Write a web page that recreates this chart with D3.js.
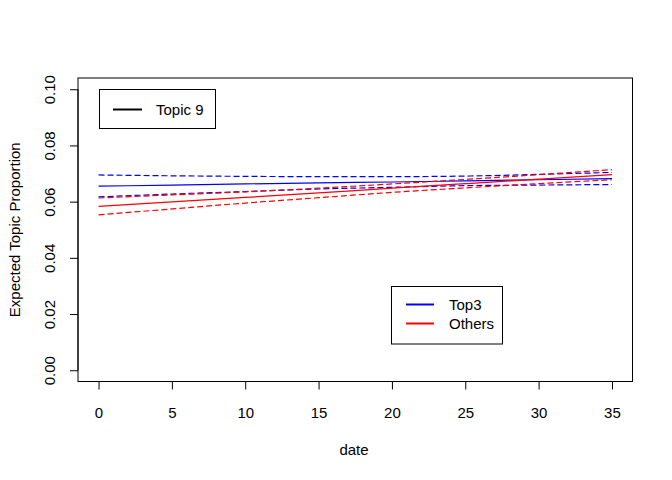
<!DOCTYPE html>
<html>
<head>
<meta charset="utf-8">
<script src="https://cdn.jsdelivr.net/npm/d3@7"></script>
<style>
html,body{margin:0;padding:0;background:#fff;}
svg{display:block;font-family:"Liberation Sans",Arial,sans-serif;}
svg text{font-size:15px;fill:#000;font-family:"Liberation Sans",Arial,sans-serif;}
</style>
</head>
<body>
<svg id="chart" width="672" height="480"></svg>
<script>
// ---- data ----
const dates = [0, 5, 10, 15, 20, 25, 30, 35];
const top3Mean   = [0.0655, 0.0659, 0.0663, 0.0667, 0.0670, 0.0674, 0.0678, 0.0682];
const top3Upper  = [0.0695, 0.0692, 0.0690, 0.0689, 0.0689, 0.0691, 0.0697, 0.0704];
const top3Lower  = [0.0617, 0.0627, 0.0636, 0.0645, 0.0651, 0.0657, 0.0659, 0.0661];
const othersMean  = [0.0583, 0.0599, 0.0615, 0.0631, 0.0648, 0.0664, 0.0680, 0.0696];
const othersUpper = [0.0613, 0.0624, 0.0635, 0.0648, 0.0663, 0.0679, 0.0696, 0.0714];
const othersLower = [0.0553, 0.0574, 0.0595, 0.0614, 0.0633, 0.0649, 0.0664, 0.0678];
const xTicks = [0, 5, 10, 15, 20, 25, 30, 35];
const yTicks = [0.00, 0.02, 0.04, 0.06, 0.08, 0.10];
const seriesNames = ["Top3", "Others"];
const seriesColors = ["#0000ff", "#ff0000"];
const topicLabel = "Topic 9";

const svg = d3.select("#chart");
const pLeft = 78, pRight = 632.5, pTop = 78, pBottom = 381.5;

const x = d3.scaleLinear().domain([-1.4, 36.4]).range([pLeft, pRight]);
const y = d3.scaleLinear().domain([-0.004, 0.104]).range([pBottom, pTop]);

// plot box
svg.append("rect").attr("x", pLeft).attr("y", pTop)
  .attr("width", pRight - pLeft).attr("height", pBottom - pTop)
  .attr("fill", "none").attr("stroke", "#000").attr("stroke-width", 1);

// x axis
const xAxis = svg.append("g").attr("transform", `translate(0,${pBottom})`)
  .call(d3.axisBottom(x).tickValues(xTicks).tickSize(8).tickFormat(d3.format("d")));
xAxis.select(".domain").attr("d", `M${x(0)},0H${x(35)}`);
xAxis.selectAll("text").attr("y", 36.3).attr("dy", null)
  .attr("font-size", 15).attr("fill", "#000");

// y axis
const yAxis = svg.append("g").attr("transform", `translate(${pLeft},0)`)
  .call(d3.axisLeft(y).tickValues(yTicks).tickSize(8).tickFormat(d3.format(".2f")));
yAxis.select(".domain").attr("d", `M0,${y(0)}V${y(0.1)}`);
yAxis.selectAll("text")
  .attr("font-size", 15).attr("fill", "#000")
  .attr("text-anchor", "middle")
  .attr("x", null)
  .attr("transform", "translate(-28,0) rotate(-90)")
  .attr("dy", "0.35em");

// axis titles
svg.append("text").attr("x", 354).attr("y", 455)
  .attr("text-anchor", "middle").text("date");
svg.append("text").attr("transform", `translate(15,${(pTop + pBottom) / 2}) rotate(-90)`)
  .attr("text-anchor", "middle").attr("dy", "0.35em").text("Expected Topic Proportion");

// lines
const line = d3.line().x(d => x(d[0])).y(d => y(d[1])).curve(d3.curveMonotoneX);
const plotSeries = [
  {mean: top3Mean, up: top3Upper, lo: top3Lower, color: seriesColors[0]},
  {mean: othersMean, up: othersUpper, lo: othersLower, color: seriesColors[1]}
];
const g = svg.append("g");
plotSeries.forEach(s => {
  g.append("path").attr("d", line(dates.map((d, i) => [d, s.mean[i]])))
    .attr("fill", "none").attr("stroke", s.color).attr("stroke-width", 1.2);
  [s.up, s.lo].forEach(arr => {
    g.append("path").attr("d", line(dates.map((d, i) => [d, arr[i]])))
      .attr("fill", "none").attr("stroke", s.color).attr("stroke-width", 1.2)
      .attr("stroke-dasharray", "6,3");
  });
});

// legend 1 (topic)
svg.append("rect").attr("x", 99.5).attr("y", 89.5).attr("width", 116).attr("height", 39)
  .attr("fill", "#fff").attr("stroke", "#000");
svg.append("line").attr("x1", 113).attr("x2", 142).attr("y1", 109.5).attr("y2", 109.5)
  .attr("stroke", "#000").attr("stroke-width", 2);
svg.append("text").attr("x", 156).attr("y", 109.5).attr("dy", "0.35em").text(topicLabel);

// legend 2 (series)
svg.append("rect").attr("x", 391.5).attr("y", 286.5).attr("width", 111).attr("height", 57.5)
  .attr("fill", "#fff").attr("stroke", "#000");
seriesNames.forEach((n, i) => {
  const yy = 304.5 + i * 19;
  svg.append("line").attr("x1", 406).attr("x2", 434).attr("y1", yy).attr("y2", yy)
    .attr("stroke", seriesColors[i]).attr("stroke-width", 2);
  svg.append("text").attr("x", 449).attr("y", yy).attr("dy", "0.35em").text(n);
});
</script>
</body>
</html>
